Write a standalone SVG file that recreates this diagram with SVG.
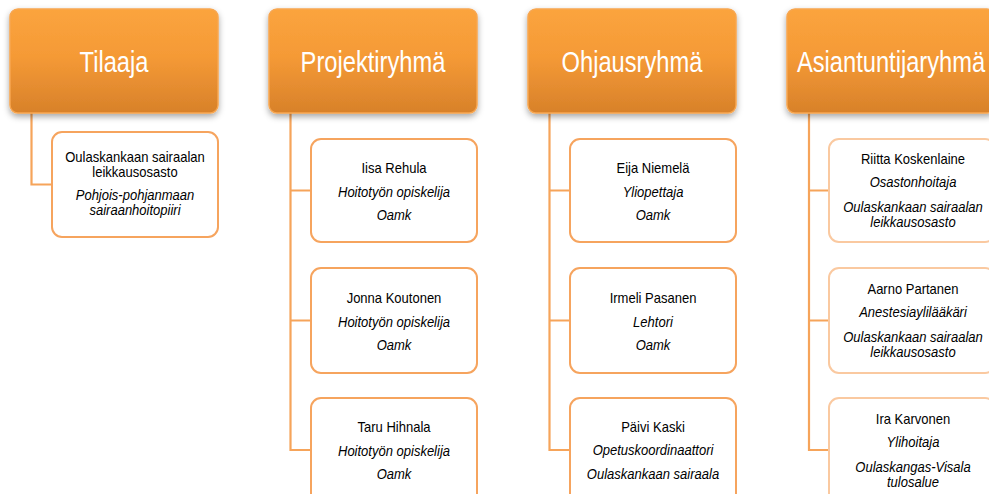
<svg xmlns="http://www.w3.org/2000/svg" width="989" height="494" viewBox="0 0 989 494">
<defs>
<linearGradient id="hg" x1="0" y1="0" x2="0" y2="1">
<stop offset="0" stop-color="#FBA43E"/>
<stop offset="0.45" stop-color="#F59A36"/>
<stop offset="1" stop-color="#D8812A"/>
</linearGradient>
<filter id="sh" x="-10%" y="-10%" width="120%" height="130%">
<feDropShadow dx="0" dy="3" stdDeviation="3" flood-color="#000" flood-opacity="0.35"/>
</filter>
</defs>
<style>
.hdr{fill:url(#hg);stroke:#F7A650;stroke-width:1.5;filter:url(#sh)}
.box{fill:#fff;stroke:#F6A45E;stroke-width:2}
.box2{fill:#fff;stroke:#FAC9A0;stroke-width:2}
.con{fill:none;stroke:#F6A45A;stroke-width:2.2}
.t{font-family:"Liberation Sans",Arial,sans-serif;font-size:30px;fill:#fff;text-anchor:middle}
.n{font-family:"Liberation Sans",Arial,sans-serif;font-size:14px;fill:#000;text-anchor:middle}
.i{font-family:"Liberation Sans",Arial,sans-serif;font-size:14px;fill:#000;text-anchor:middle;font-style:italic}
</style>
<rect width="989" height="494" fill="#fff"/>

<g id="connectors">
<path class="con" d="M31.5,113 V184.5 H52"/>
<path class="con" d="M290.5,113 V450 H311 M290.5,190.5 H311 M290.5,320.5 H311"/>
<path class="con" d="M549.5,113 V450 H570 M549.5,190.5 H570 M549.5,320.5 H570"/>
<path class="con" d="M809,113 V450 H829 M809,190.5 H829 M809,320.5 H829"/>
</g>

<g id="tilaaja">
<rect class="hdr" x="10" y="9" width="208" height="104" rx="8"/>
<text class="t" transform="translate(114,72) scale(0.79,1)">Tilaaja</text>
</g>
<g id="tilaaja-1">
<rect class="box" x="52" y="132" width="166" height="105" rx="10"/>
<text class="n" transform="translate(135,161.5) scale(0.93,1)">Oulaskankaan sairaalan</text>
<text class="n" transform="translate(135,176.5) scale(0.93,1)">leikkausosasto</text>
<text class="i" transform="translate(135,199.5) scale(0.93,1)">Pohjois-pohjanmaan</text>
<text class="i" transform="translate(135,214.5) scale(0.93,1)">sairaanhoitopiiri</text>
</g>

<g id="projektiryhma">
<rect class="hdr" x="269" y="9" width="208" height="104" rx="8"/>
<text class="t" transform="translate(373,72) scale(0.79,1)">Projektiryhmä</text>
</g>
<g id="projekti-1">
<rect class="box" x="311" y="139" width="166" height="103" rx="10"/>
<text class="n" transform="translate(394,173) scale(0.93,1)">Iisa Rehula</text>
<text class="i" transform="translate(394,196.5) scale(0.93,1)">Hoitotyön opiskelija</text>
<text class="i" transform="translate(394,220) scale(0.93,1)">Oamk</text>
</g>
<g id="projekti-2">
<rect class="box" x="311" y="268" width="166" height="105" rx="10"/>
<text class="n" transform="translate(394,303) scale(0.93,1)">Jonna Koutonen</text>
<text class="i" transform="translate(394,326.5) scale(0.93,1)">Hoitotyön opiskelija</text>
<text class="i" transform="translate(394,350) scale(0.93,1)">Oamk</text>
</g>
<g id="projekti-3">
<rect class="box" x="311" y="398" width="166" height="105" rx="10"/>
<text class="n" transform="translate(394,432) scale(0.93,1)">Taru Hihnala</text>
<text class="i" transform="translate(394,455.5) scale(0.93,1)">Hoitotyön opiskelija</text>
<text class="i" transform="translate(394,479) scale(0.93,1)">Oamk</text>
</g>

<g id="ohjausryhma">
<rect class="hdr" x="528" y="9" width="208" height="104" rx="8"/>
<text class="t" transform="translate(632,72) scale(0.79,1)">Ohjausryhmä</text>
</g>
<g id="ohjaus-1">
<rect class="box" x="570" y="139" width="166" height="103" rx="10"/>
<text class="n" transform="translate(653,173) scale(0.93,1)">Eija Niemelä</text>
<text class="i" transform="translate(653,196.5) scale(0.93,1)">Yliopettaja</text>
<text class="i" transform="translate(653,220) scale(0.93,1)">Oamk</text>
</g>
<g id="ohjaus-2">
<rect class="box" x="570" y="268" width="166" height="105" rx="10"/>
<text class="n" transform="translate(653,303) scale(0.93,1)">Irmeli Pasanen</text>
<text class="i" transform="translate(653,326.5) scale(0.93,1)">Lehtori</text>
<text class="i" transform="translate(653,350) scale(0.93,1)">Oamk</text>
</g>
<g id="ohjaus-3">
<rect class="box" x="570" y="398" width="166" height="105" rx="10"/>
<text class="n" transform="translate(653,432) scale(0.93,1)">Päivi Kaski</text>
<text class="i" transform="translate(653,455) scale(0.93,1)">Opetuskoordinaattori</text>
<text class="i" transform="translate(653,478.5) scale(0.93,1)">Oulaskankaan sairaala</text>
</g>

<g id="asiantuntijaryhma">
<rect class="hdr" x="787" y="9" width="208" height="104" rx="8"/>
<text class="t" transform="translate(891,72) scale(0.79,1)">Asiantuntijaryhmä</text>
</g>
<g id="asiantuntija-1">
<rect class="box2" x="829" y="139" width="166" height="103" rx="10"/>
<text class="n" transform="translate(913,163.5) scale(0.93,1)">Riitta Koskenlaine</text>
<text class="i" transform="translate(913,187) scale(0.93,1)">Osastonhoitaja</text>
<text class="i" transform="translate(913,212) scale(0.93,1)">Oulaskankaan sairaalan</text>
<text class="i" transform="translate(913,226.5) scale(0.93,1)">leikkausosasto</text>
</g>
<g id="asiantuntija-2">
<rect class="box2" x="829" y="268" width="166" height="105" rx="10"/>
<text class="n" transform="translate(913,293.5) scale(0.93,1)">Aarno Partanen</text>
<text class="i" transform="translate(913,317) scale(0.93,1)">Anestesiaylilääkäri</text>
<text class="i" transform="translate(913,342) scale(0.93,1)">Oulaskankaan sairaalan</text>
<text class="i" transform="translate(913,356.5) scale(0.93,1)">leikkausosasto</text>
</g>
<g id="asiantuntija-3">
<rect class="box2" x="829" y="398" width="166" height="105" rx="10"/>
<text class="n" transform="translate(913,424) scale(0.93,1)">Ira Karvonen</text>
<text class="i" transform="translate(913,447) scale(0.93,1)">Ylihoitaja</text>
<text class="i" transform="translate(913,472) scale(0.93,1)">Oulaskangas-Visala</text>
<text class="i" transform="translate(913,486.5) scale(0.93,1)">tulosalue</text>
</g>
</svg>
